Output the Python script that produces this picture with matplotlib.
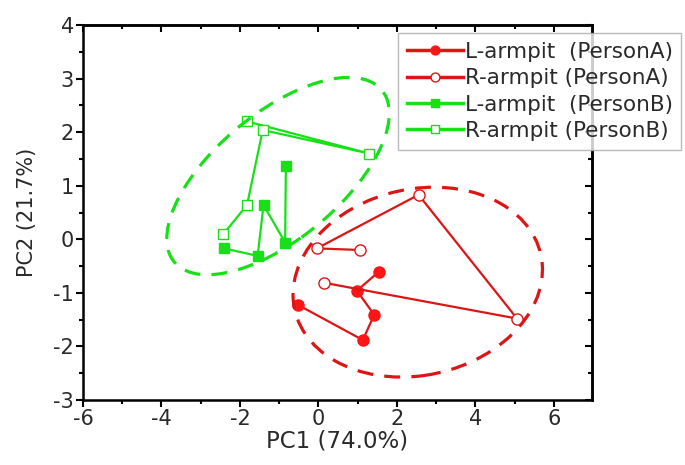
import matplotlib
matplotlib.use("Agg")
import matplotlib.pyplot as plt
from matplotlib.patches import Ellipse
from matplotlib.ticker import MultipleLocator

plt.rcParams['font.family'] = ['DejaVu Sans']
plt.rcParams['axes.unicode_minus'] = False

# Data
la_x = [1.53, 0.98, 1.42, 1.13, -0.51]
la_y = [-0.61, -0.96, -1.41, -1.88, -1.23]
ra_x = [1.07, -0.04, 2.55, 5.06, 0.13]
ra_y = [-0.20, -0.17, 0.83, -1.48, -0.81]
lb_x = [-0.83, -0.85, -1.40, -1.55, -2.40]
lb_y = [1.37, -0.06, 0.64, -0.31, -0.17]
rb_x = [-1.82, 1.30, -1.42, -1.82, -2.42]
rb_y = [2.20, 1.60, 2.04, 0.64, 0.10]

labels = ["L-armpit  (PersonA)", "R-armpit (PersonA)",
          "L-armpit  (PersonB)", "R-armpit (PersonB)"]

# confidence ellipses: center x, center y, width, height, angle
ell_A = (2.53, -0.80, 6.38, 3.50, 6.0)
ell_B = (-1.03, 1.18, 6.25, 2.58, 27.5)

red_line = '#dd1515'
red_mk = '#ff1515'
green = '#18e018'
txt = '#2a2a2a'

fig = plt.figure(figsize=(6.85, 4.65), dpi=100)
ax = fig.add_axes([83/685, 1-400/465, (592-83)/685, (400-25)/465])

ax.plot(la_x, la_y, '-', color=red_line, lw=1.6, marker='o', ms=8,
        mfc=red_mk, mec=red_mk, label=labels[0], zorder=3)
ax.plot(ra_x, ra_y, '-', color=red_line, lw=1.6, marker='o', ms=8,
        mfc='white', mec=red_line, mew=1.0, label=labels[1], zorder=3)
ax.plot(lb_x, lb_y, '-', color=green, lw=1.6, marker='s', ms=7,
        mfc=green, mec=green, label=labels[2], zorder=3)
ax.plot(rb_x, rb_y, '-', color=green, lw=1.6, marker='s', ms=7,
        mfc='white', mec=green, mew=1.0, label=labels[3], zorder=3)

for (cx, cy, w, h, a), col in [(ell_A, red_line), (ell_B, green)]:
    e = Ellipse((cx, cy), w, h, angle=a, fill=False, edgecolor=col,
                lw=2.3, linestyle=(0, (5, 3.5)), zorder=4)
    ax.add_patch(e)

ax.set_xlim(-6, 6.97)
ax.set_ylim(-3, 4)
ax.xaxis.set_major_locator(MultipleLocator(2))
ax.xaxis.set_minor_locator(MultipleLocator(1))
ax.yaxis.set_major_locator(MultipleLocator(1))
ax.yaxis.set_minor_locator(MultipleLocator(0.5))

for s in ax.spines.values():
    s.set_linewidth(1.8)

ax.tick_params(axis='both', which='major', direction='out', length=5,
               width=1.5, labelsize=15, pad=1.5, labelcolor=txt)
ax.tick_params(axis='both', which='minor', direction='out', length=3,
               width=1.5)
# mirrored inward ticks on top/right
axt = ax.secondary_xaxis('top')
axt.xaxis.set_major_locator(MultipleLocator(2))
axt.xaxis.set_minor_locator(MultipleLocator(1))
axt.tick_params(which='major', direction='in', length=5, width=1.5, labeltop=False)
axt.tick_params(which='minor', direction='in', length=3, width=1.5)
axt.spines['top'].set_linewidth(1.8)
axr = ax.secondary_yaxis('right')
axr.yaxis.set_major_locator(MultipleLocator(1))
axr.yaxis.set_minor_locator(MultipleLocator(0.5))
axr.tick_params(which='major', direction='in', length=5, width=1.5, labelright=False)
axr.tick_params(which='minor', direction='in', length=3, width=1.5)
axr.spines['right'].set_linewidth(1.8)

ax.set_xlabel("PC1 (74.0%)", fontsize=16.5, labelpad=0, color=txt)
ax.set_ylabel("PC2 (21.7%)", fontsize=15, labelpad=12, color=txt)

leg = fig.legend(loc='upper left', bbox_to_anchor=(398/685, 1-33/465),
                 fontsize=15.5, frameon=True, fancybox=False,
                 handlelength=2.6, handletextpad=0.1, borderpad=0.4,
                 labelspacing=0.3, borderaxespad=0, markerscale=0.8)
leg.get_frame().set_edgecolor('#aaaaaa')
leg.get_frame().set_linewidth(1.0)
leg.set_zorder(10)
for t in leg.get_texts():
    t.set_color(txt)
for h in leg.get_lines():
    h.set_linewidth(2.5)

fig.savefig("out.png", dpi=100)
